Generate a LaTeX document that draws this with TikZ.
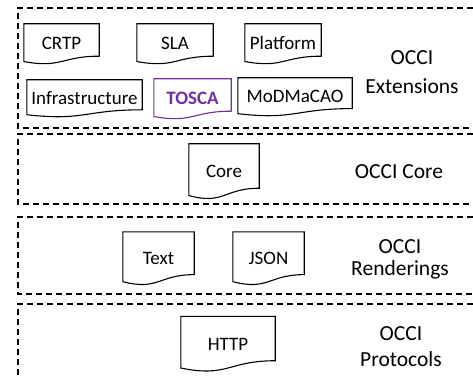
\documentclass[tikz,border=0pt]{standalone}
\usepackage{fontspec}
\setmainfont{Carlito}
\usetikzlibrary{calc}

\definecolor{toscapurple}{HTML}{7030A0}

\tikzset{
	layer/.style={dashed,dash pattern=on 6pt off 4pt,line width=1.3pt},
	doc/.style={inner sep=0pt,text height=12pt,text depth=0pt,font=\fontsize{19}{20}\selectfont,
		append after command={\pgfextra{\draw[#1,line width=1.1pt] (\tikzlastnode.north west) -- (\tikzlastnode.north east) -- ($(\tikzlastnode.north east)!0.802!(\tikzlastnode.south east)$) .. controls ($(\tikzlastnode.north)!0.802!(\tikzlastnode.south)$) and ($(\tikzlastnode.north)!1.1075!(\tikzlastnode.south)$) .. ($(\tikzlastnode.north west)!0.934!(\tikzlastnode.south west)$) -- cycle;}}},
	doc/.default=black,
	layername/.style={align=center,font=\fontsize{21.5}{25}\selectfont}
}

\begin{document}
\begin{tikzpicture}[x=1pt,y=-1pt]
	\useasboundingbox (0,0) rectangle (473,379);
	% draw layers
	\draw[layer] (473,8) -| (18,128) -- (473,128);
	\draw[layer] (473,134) -| (18,204) -- (473,204);
	\draw[layer] (473,217) -| (18,294) -- (473,294);
	\draw[layer] (473,304) -| (18,379);
	% extensions
	\node[doc,minimum width=75pt,minimum height=40pt] (crtp) at (61.5,44) {CRTP};
	\node[doc,minimum width=76pt,minimum height=40pt] (sla) at (175,44) {SLA};
	\node[doc,minimum width=76pt,minimum height=40pt] (platform) at (283,44) {Platform};
	\node[doc,minimum width=115pt,minimum height=37pt] (infra) at (84.5,98.5) {Infrastructure};
	\node[doc=toscapurple,text=toscapurple,font=\fontsize{19}{20}\selectfont\bfseries,minimum width=77pt,minimum height=40pt] (tosca) at (192.5,99) {TOSCA};
	\node[doc,minimum width=114pt,minimum height=38pt] (modmacao) at (295,97) {MoDMaCAO};
	\node[layername] (ext) at (412,72) {OCCI\\[4pt]Extensions};
	% core
	\node[doc,minimum width=70pt,minimum height=55pt] (core) at (224,171.5) {Core};
	\node[layername] (corename) at (399,172) {OCCI Core};
	% renderings
	\node[doc,minimum width=71pt,minimum height=53pt] (text) at (158.5,258.5) {Text};
	\node[doc,minimum width=71pt,minimum height=53pt] (json) at (268.5,258.5) {JSON};
	\node[layername] (rend) at (400,259) {OCCI\\[-3pt]Renderings};
	% protocols
	\node[doc,minimum width=94pt,minimum height=55pt] (http) at (228,344) {HTTP};
	\node[layername] (prot) at (401,347) {OCCI\\[1pt]Protocols};
\end{tikzpicture}
\end{document}
